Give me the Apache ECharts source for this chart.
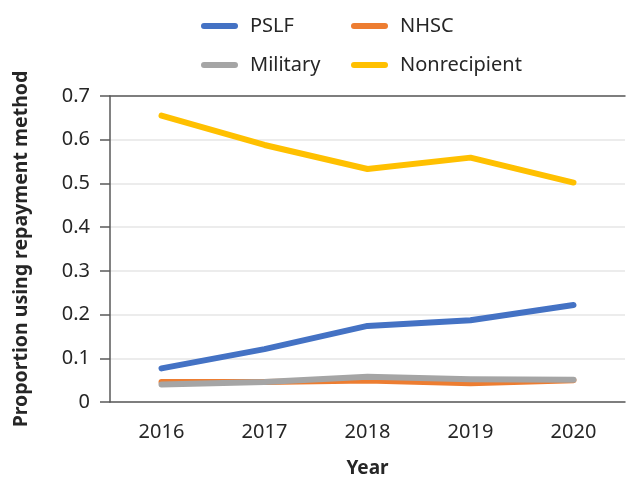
<!DOCTYPE html>
<html>
<head>
<meta charset="utf-8">
<script src="https://cdn.jsdelivr.net/npm/echarts@6/dist/echarts.min.js"></script>
<style>
  html, body { margin: 0; padding: 0; background: #fff; }
  #chart { width: 626px; height: 477px; }
</style>
</head>
<body>
<div id="chart"></div>
<script>
// data
const years = ['2016', '2017', '2018', '2019', '2020'];
const pslf = [0.077, 0.121, 0.174, 0.187, 0.222];
const nhsc = [0.046, 0.046, 0.049, 0.043, 0.050];
const military = [0.040, 0.046, 0.058, 0.052, 0.051];
const nonrecipient = [0.655, 0.588, 0.533, 0.559, 0.502];

const FONT = '"Noto Sans", sans-serif';
const AXIS_COLOR = '#595959';
const TEXT_COLOR = '#262626';
const pill = 'path://M3 0H34A3 3 0 0 1 34 6H3A3 3 0 0 1 3 0Z';

function makeSeries(name, data, color) {
    return {
        name: name,
        type: 'line',
        data: data,
        symbol: 'none',
        color: color,
        lineStyle: { width: 6, color: color, cap: 'round', join: 'round' }
    };
}

function legendCol(left, names) {
    return {
        orient: 'vertical',
        left: left,
        top: 10,
        itemWidth: 37,
        itemHeight: 6,
        itemGap: 17,
        icon: pill,
        selectedMode: false,
        textStyle: { fontFamily: FONT, fontSize: 20, lineHeight: 22, color: TEXT_COLOR, padding: [0, 0, 0, 7] },
        data: names
    };
}

const chart = echarts.init(document.getElementById('chart'));
chart.setOption({
    animation: false,
    backgroundColor: '#fff',
    legend: [
        legendCol(196, ['PSLF', 'Military']),
        legendCol(346, ['NHSC', 'Nonrecipient'])
    ],
    grid: { left: 110, right: 1, top: 96, bottom: 75, outerBoundsMode: 'none' },
    xAxis: [{
        type: 'category',
        data: years,
        boundaryGap: true,
        name: 'Year',
        nameLocation: 'middle',
        nameGap: 57,
        nameTextStyle: { fontFamily: FONT, fontSize: 19, fontWeight: 'bold', color: TEXT_COLOR },
        axisLine: { lineStyle: { color: AXIS_COLOR, width: 1.5 } },
        axisTick: { length: 10, lineStyle: { color: AXIS_COLOR, width: 1.5 } },
        axisLabel: { fontFamily: FONT, fontSize: 20, color: TEXT_COLOR, margin: 20 }
    }, {
        type: 'category',
        data: years,
        position: 'top',
        axisLine: { show: true, lineStyle: { color: AXIS_COLOR, width: 1.5 } },
        axisTick: { show: false },
        axisLabel: { show: false }
    }],
    yAxis: {
        type: 'value',
        min: 0,
        max: 0.7,
        interval: 0.1,
        name: 'Proportion using repayment method',
        nameLocation: 'middle',
        nameGap: 79,
        nameTextStyle: { fontFamily: FONT, fontSize: 19.5, fontWeight: 'bold', color: TEXT_COLOR },
        axisLine: { show: true, lineStyle: { color: AXIS_COLOR, width: 1.5 } },
        axisTick: { show: true, length: 10, lineStyle: { color: AXIS_COLOR, width: 1.5 } },
        axisLabel: { fontFamily: FONT, fontSize: 20, color: TEXT_COLOR, margin: 20 },
        splitLine: { lineStyle: { color: '#e6e6e6', width: 1.5 } }
    },
    series: [
        makeSeries('PSLF', pslf, '#4472C4'),
        makeSeries('NHSC', nhsc, '#ED7D31'),
        makeSeries('Military', military, '#A5A5A5'),
        makeSeries('Nonrecipient', nonrecipient, '#FFC000')
    ]
});
</script>
</body>
</html>
